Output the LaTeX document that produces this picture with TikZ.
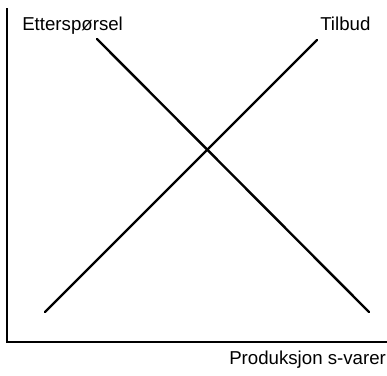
\documentclass[tikz,border=0pt]{standalone}
\usepackage{fontspec}
\setmainfont{Liberation Sans}
\tikzset{
    axisline/.style={line width=2.2pt, line cap=rect},
    curve/.style={line width=1.8pt, line cap=round},
    label/.style={font=\fontsize{14}{16}\selectfont, inner sep=0pt, anchor=base west},
    common settings/.style={x={(0.75pt,0pt)}, y={(0pt,-0.75pt)}}
}
\begin{document}
\begin{tikzpicture}[common settings]
    \useasboundingbox (0,0) rectangle (387,376);

    % Axes
    \coordinate (top) at (7,9);
    \coordinate (origin) at (7,342);
    \coordinate (right) at (386,342);
    \draw[axisline] (top) -- (origin) -- (right);

    % Demand and supply
    \coordinate (dstart) at (97,39);
    \coordinate (dend) at (369,312);
    \coordinate (sstart) at (45,312);
    \coordinate (send) at (317,40);
    \draw[curve] (dstart) -- (dend); % Etterspørsel
    \draw[curve] (sstart) -- (send); % Tilbud

    % Labels
    \node[label] (demand) at (22,30) {Etterspørsel};
    \node[label] (supply) at (320,30) {Tilbud};
    \node[label] (xlabel) at (229,364) {Produksjon s-varer};

\end{tikzpicture}
\end{document}
